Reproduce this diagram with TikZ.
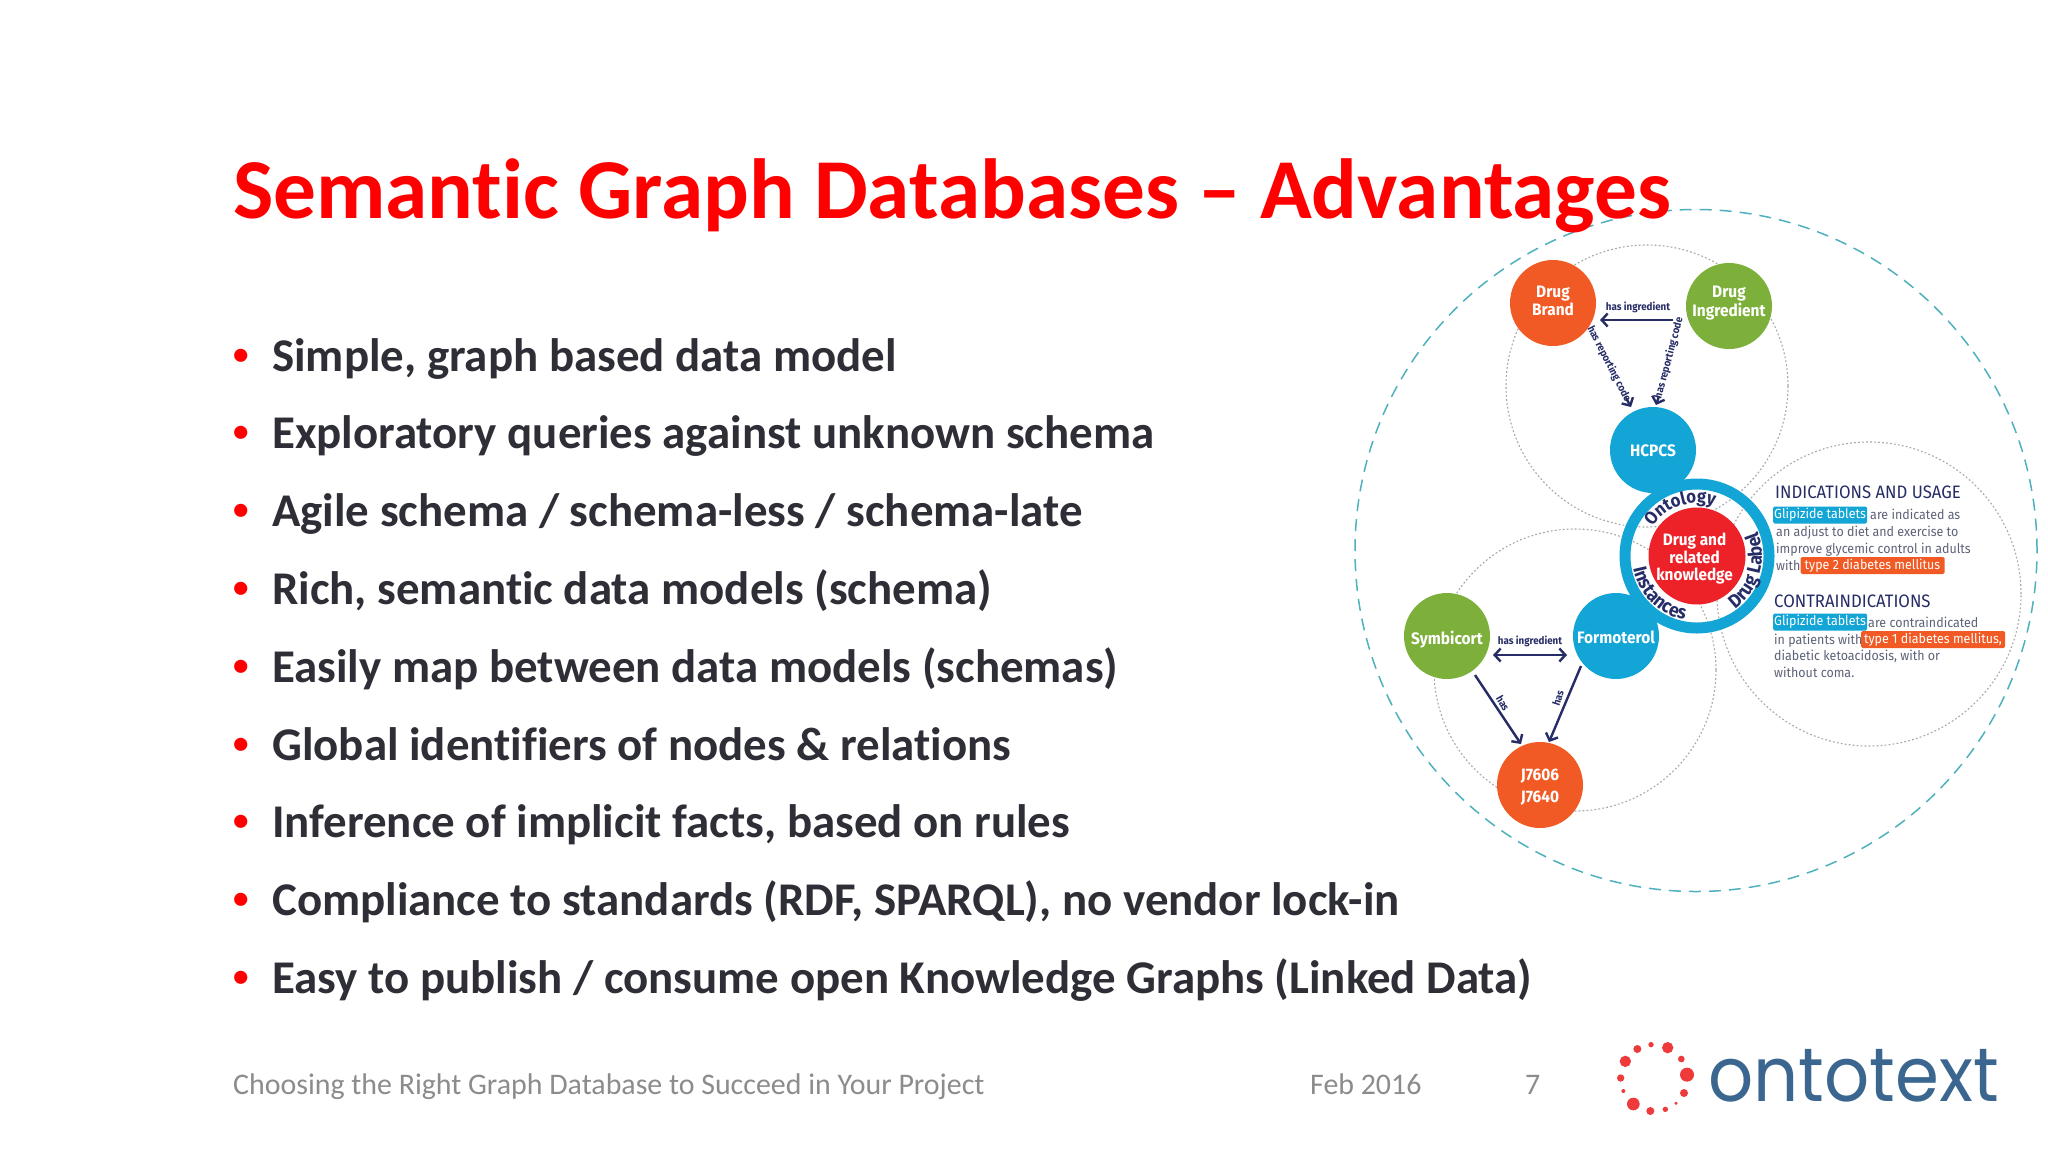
\documentclass[tikz,border=0pt]{standalone}
\usepackage{fontspec}
\setmainfont[Ligatures=NoCommon]{Carlito}
\newfontfamily\din[FakeStretch=0.93]{Fira Sans}
\newfontfamily\logofont{Poppins}
\usetikzlibrary{arrows.meta,decorations.text}
\definecolor{titlered}{HTML}{FF0000}
\definecolor{bodyink}{HTML}{2E2E36}
\definecolor{footgray}{HTML}{8C8C8C}
\definecolor{teal}{HTML}{4FB0BE}
\definecolor{dotgray}{HTML}{A8A8A8}
\definecolor{dorange}{HTML}{F15A24}
\definecolor{dgreen}{HTML}{7DB03B}
\definecolor{dblue}{HTML}{12A5D6}
\definecolor{dred}{HTML}{ED2229}
\definecolor{navy}{HTML}{262C66}
\definecolor{panelgray}{HTML}{5E6278}
\definecolor{logored}{HTML}{EE3A3A}
\definecolor{logoblue}{HTML}{3A668F}
\newcommand{\shifted}[2]{\raisebox{#1}[\height][\depth]{\begin{tabular}{@{}c@{}}#2\end{tabular}}}
\tikzset{
  x=1pt,y=-1pt,
  bigtext/.style={font=\fontsize{46.9}{47}\selectfont\bfseries,text=bodyink,anchor=base west,inner sep=0pt},
  foot/.style={font=\fontsize{29.9}{30}\selectfont,text=footgray,anchor=base west,inner sep=0pt},
  ball/.style={circle,minimum size=86pt,inner sep=0pt,text=white,align=center,font=\din\fontsize{16.6}{18}\selectfont\bfseries},
  dotc/.style={draw=dotgray,line width=1.1pt,dash pattern=on 1.8pt off 2.2pt},
  arrowline/.style={draw=navy,line width=2.4pt,-{Straight Barb[length=6pt,width=13pt]}},
  rel/.style={text=navy,inner sep=0pt,font=\din\fontsize{10.5}{12}\selectfont\bfseries},
  panel/.style={text=panelgray,anchor=base west,inner sep=0pt,font=\din\fontsize{13.4}{15}\selectfont},
  head/.style={text=navy,anchor=base west,inner sep=0pt,font=\din\fontsize{18}{20}\selectfont},
  mark/.style={fill=#1,text=white,rounded corners=1.5pt,inner sep=0pt,minimum height=17pt,font=\din\fontsize{13.4}{15}\selectfont},
}
\begin{document}
\begin{tikzpicture}
\useasboundingbox (0,0) rectangle (2048,1152);
\fill[white] (0,0) rectangle (2048,1152);
% outer and dotted circles
\coordinate (ringc) at (1697,556);
\draw[teal,line width=1.5pt,dash pattern=on 12pt off 8pt] (1696,550.5) circle[radius=341pt];
\def\dottedcircles{%
  \draw[dotc] (1647,386) circle[radius=141pt];
  \draw[dotc] (1575,670) circle[radius=141pt];
  \draw[dotc] (1869,594) circle[radius=152pt];}
\dottedcircles
% graph nodes
\node[ball,fill=dorange] (brand) at (1553,303) {\shifted{0pt}{Drug\\Brand}};
\node[ball,fill=dgreen] (ingr) at (1729,306) {\shifted{3pt}{Drug\\Ingredient}};
\node[ball,fill=dblue] (hcpcs) at (1653,450) {\shifted{-2.5pt}{HCPCS}};
\node[ball,fill=dgreen] (symb) at (1447,636) {\shifted{-4pt}{Symbicort}};
\node[ball,fill=dblue] (form) at (1616,636) {\shifted{-4pt}{Formoterol}};
\node[ball,fill=dorange,font=\din\fontsize{16.6}{22}\selectfont\bfseries] (jcode) at (1540,785) {\shifted{-2.5pt}{J7606\\J7640}};
% centre ring
\fill[white] (ringc) circle[radius=77pt];
\begin{scope}
  \clip (ringc) circle[radius=72pt];
  \dottedcircles
\end{scope}
\draw[dblue,line width=11pt] (ringc) circle[radius=72pt];
\node[circle,fill=dred,minimum size=97pt,inner sep=0pt,text=white,align=center,font=\din\fontsize{16.5}{17.5}\selectfont\bfseries] (core) at (ringc) {\hspace*{-5pt}\shifted{-3.5pt}{Drug and\\related\\knowledge}};
\path[decorate,decoration={text along path,text align=center,text={|\din\fontsize{18}{20}\selectfont\bfseries\color{navy}|Ontology}}]
  (ringc) ++(152:53pt) arc[start angle=152,end angle=66,radius=53pt];
\path[decorate,decoration={text along path,text align=center,text={|\din\fontsize{19}{20}\selectfont\bfseries\color{navy}|Instances}}]
  (ringc) ++(172:65pt) arc[start angle=172,end angle=278,radius=65pt];
\path[decorate,decoration={text along path,text align=center,text={|\din\fontsize{19}{20}\selectfont\bfseries\color{navy}|Drug Label}}]
  (ringc) ++(-70:65pt) arc[start angle=-70,end angle=38,radius=65pt];
% connectors
\coordinate (s1) at (1673,320);
\coordinate (t1) at (1600,320);
\draw[arrowline] (s1) -- (t1);
\node[rel] (l1) at (1638,307) {has ingredient};
\coordinate (s2) at (1626,398);
\coordinate (t2) at (1631,407);
\draw[arrowline] (s2) -- (t2);
\node[rel,rotate=-63] (l2) at (1609,364) {has reporting code};
\coordinate (s3) at (1659,396);
\coordinate (t3) at (1656,405);
\draw[arrowline] (s3) -- (t3);
\node[rel,rotate=75] (l3) at (1669,358) {has reporting code};
\coordinate (s4) at (1493,655);
\coordinate (t4) at (1567,655);
\draw[arrowline,{Straight Barb[length=6pt,width=13pt]}-{Straight Barb[length=6pt,width=13pt]}] (s4) -- (t4);
\node[rel] (l4) at (1530,641) {has ingredient};
\draw[arrowline] (symb) ++(28,39) -- (1521,744);
\draw[arrowline] (form) ++(-35,30) -- (1549,742);
\node[rel,rotate=-60] (l5) at (1503,703) {has};
\node[rel,rotate=72] (l6) at (1558,698) {has};
% panel text
\node[head] (h1) at (1775,498) {INDICATIONS AND USAGE};
\node[mark=dblue,minimum width=94pt] (g1) at (1820,515) {Glipizide tablets};
\node[panel] (p1) at (1870,519) {are indicated as};
\node[panel] (p2) at (1776,536) {an adjust to diet and exercise to};
\node[panel] (p3) at (1776,553) {improve glycemic control in adults};
\node[panel] (p4) at (1776,570) {with};
\node[mark=dorange,minimum width=144pt] (t2m) at (1872.5,565.5) {type 2 diabetes mellitus};
\node[head] (h2) at (1774,607) {CONTRAINDICATIONS};
\node[mark=dblue,minimum width=94pt] (g2) at (1820,622) {Glipizide tablets};
\node[panel] (p5) at (1868,627) {are contraindicated};
\node[panel] (p6) at (1774,644) {in patients with};
\node[mark=dorange,minimum width=144pt] (t1m) at (1933,639.5) {type 1 diabetes mellitus,};
\node[panel] (p7) at (1774,660) {diabetic ketoacidosis, with or};
\node[panel] (p8) at (1774,677) {without coma.};
% title over the dashed circle
\node[anchor=base west,inner sep=0pt,text=titlered,font=\fontsize{85.3}{86}\selectfont\bfseries] (title) at (233,218) {Semantic Graph Databases – Advantages};
% bullets
\foreach \i/\txt in {0/{Simple, graph based data model},
  1/{Exploratory queries against unknown schema},
  2/{Agile schema / schema-less / schema-late},
  3/{Rich, semantic data models (schema)},
  4/{Easily map between data models (schemas)},
  5/{Global identifiers of nodes \& relations},
  6/{Inference of implicit facts, based on rules},
  7/{Compliance to standards (RDF, SPARQL), no vendor lock-in},
  8/{Easy to publish / consume open Knowledge Graphs (Linked Data)}}{
  \node[bigtext,text=titlered,font=\fontsize{31}{31}\selectfont\bfseries] (b\i) at (233,{364+77.8*\i}) {•};
  \node[bigtext] (t\i) at (272,{371+77.8*\i}) {\txt};
}
% footer
\node[foot] (f1) at (233,1094) {Choosing the Right Graph Database to Succeed in Your Project};
\node[foot] (f2) at (1310,1094) {Feb 2016};
\node[foot] (f3) at (1525,1094) {7};
% logo
\foreach \zx/\zy/\zr in {263/113/17,213/104/8,172/117/12,136/154/17,122/204/11,130/243/6,160/282/19,211/303/12,256/298/8,288/280/5,312/249/12,321/194/21,304/147/10}{
  \fill[logored] ({1580+\zx/3},{1010+\zy/3}) circle[radius={\zr/3*1pt}];
}
\node[anchor=base west,inner sep=0pt,text=logoblue,font=\logofont\fontsize{76}{76}\selectfont] (logo) at (1708,1101) {\scalebox{0.93}[1]{ontotext}};
\end{tikzpicture}
\end{document}
